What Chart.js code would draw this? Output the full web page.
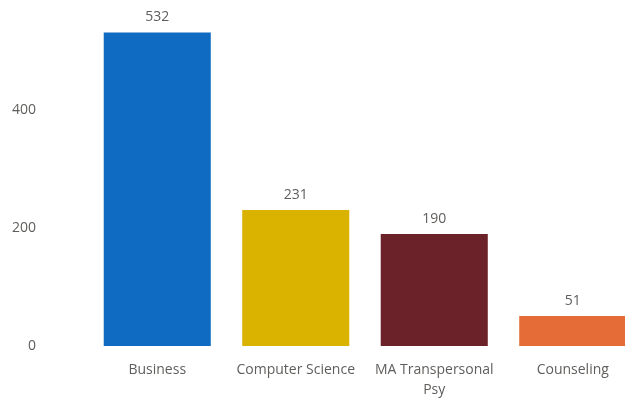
<!DOCTYPE html>
<html>
<head>
<meta charset="utf-8">
<script src="https://cdn.jsdelivr.net/npm/chart.js@4"></script>
<style>
html,body{margin:0;padding:0;background:#fff;overflow:hidden}
#wrap{width:642px;height:402px;position:relative}
</style>
</head>
<body>
<div id="wrap"><canvas id="c"></canvas></div>
<script>
const programs = ['Business', ['Computer Science'], ['MA Transpersonal', 'Psy'], 'Counseling'];
const students = [532, 231, 190, 51];
const barColors = ['#0f6bc1', '#dab300', '#6b2329', '#e56c37'];
const yTicks = [0, 200, 400];

const FONT = '"Segoe UI", "Open Sans", sans-serif';

/* value labels above bars */
const valueLabels = {
  id: 'valueLabels',
  afterDatasetsDraw(chart) {
    const ctx = chart.ctx;
    const meta = chart.getDatasetMeta(0);
    ctx.save();
    ctx.font = '14px ' + FONT;
    ctx.fillStyle = '#605e5c';
    ctx.textAlign = 'center';
    ctx.textBaseline = 'bottom';
    meta.data.forEach((bar, i) => {
      ctx.fillText(students[i], bar.x, bar.y - 8);
    });
    ctx.restore();
  }
};

new Chart(document.getElementById('c'), {
  type: 'bar',
  data: {
    labels: programs,
    datasets: [{
      data: students,
      backgroundColor: barColors,
      barPercentage: 0.773,
      categoryPercentage: 1
    }]
  },
  options: {
    responsive: true,
    maintainAspectRatio: false,
    animation: false,
    layout: {padding: {left: 12, top: 16, right: 0, bottom: 0}},
    plugins: {legend: {display: false}, tooltip: {enabled: false}},
    scales: {
      x: {
        grid: {display: false},
        border: {display: false},
        afterFit: s => { s.height = 56; s.paddingLeft = 0; s.paddingRight = 0; },
        ticks: {
          color: '#605e5c',
          font: {family: FONT, size: 14, lineHeight: 1.43},
          maxRotation: 0,
          autoSkip: false,
          padding: 6
        }
      },
      y: {
        min: 0,
        max: 560,
        grid: {display: false, drawTicks: false},
        border: {display: false},
        afterBuildTicks: s => { s.ticks = yTicks.map(v => ({value: v})); },
        afterFit: s => { s.width = 76; s.paddingTop = 0; s.paddingBottom = 0; },
        ticks: {
          color: '#605e5c',
          font: {family: FONT, size: 14},
          padding: 52
        }
      }
    }
  },
  plugins: [valueLabels]
});
</script>
</body>
</html>
